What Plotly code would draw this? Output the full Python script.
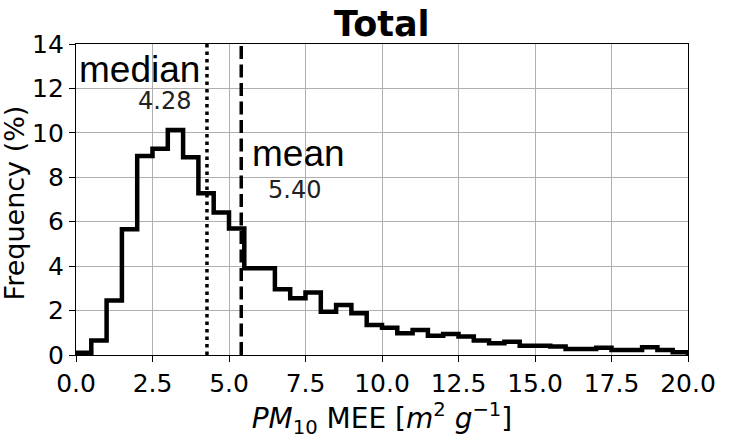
import numpy as np
import plotly.graph_objects as go

# Histogram of PM10 mass extinction efficiency, 0.5-wide bins from 0 to 20
bin_edges = np.arange(0.0, 20.0001, 0.5)
freq_pct = [
    0.10, 0.65, 2.45, 5.66, 8.96, 9.28, 10.13, 8.90, 7.28, 6.41,
    5.70, 3.90, 3.90, 2.96, 2.55, 2.81, 1.95, 2.25, 1.88, 1.35,
    1.23, 0.98, 1.13, 0.87, 0.95, 0.83, 0.65, 0.53, 0.60, 0.42,
    0.42, 0.38, 0.27, 0.27, 0.33, 0.23, 0.23, 0.35, 0.23, 0.12,
]
median_val = 4.28
mean_val = 5.40

x_ticks = [0.0, 2.5, 5.0, 7.5, 10.0, 12.5, 15.0, 17.5, 20.0]
y_ticks = [0, 2, 4, 6, 8, 10, 12, 14]

# step outline: start at baseline, climb through each bin, drop at the end
step_x = [bin_edges[0]] + list(bin_edges[:-1]) + [bin_edges[-1], bin_edges[-1]]
step_y = [0.0] + list(freq_pct) + [freq_pct[-1], 0.0]

fig = go.Figure()
fig.add_trace(go.Scatter(
    x=step_x, y=step_y, mode="lines", line_shape="hv",
    line=dict(color="black", width=4.5), showlegend=False, hoverinfo="skip",
))
fig.add_trace(go.Scatter(
    x=[median_val, median_val], y=[0, 14], mode="lines",
    line=dict(color="black", width=3.5, dash="3.5px,4px"), showlegend=False,
))
fig.add_trace(go.Scatter(
    x=[mean_val, mean_val], y=[0, 14], mode="lines",
    line=dict(color="black", width=3.5, dash="13px,5.5px"), showlegend=False,
))

big = dict(family="Liberation Sans, Arial", size=37, color="black")
small = dict(family="DejaVu Sans", size=24, color="#222222")
fig.add_annotation(x=median_val - 0.15, y=12.85, text="median", showarrow=False,
                   xanchor="right", yanchor="middle", font=big)
fig.add_annotation(x=median_val - 0.45, y=11.42, text=f"{median_val:.2f}", showarrow=False,
                   xanchor="right", yanchor="middle", font=small)
fig.add_annotation(x=mean_val + 0.3, y=9.05, text="mean", showarrow=False,
                   xanchor="left", yanchor="middle", font=big)
fig.add_annotation(x=mean_val + 1.75, y=7.45, text=f"{mean_val:.2f}", showarrow=False,
                   xanchor="center", yanchor="middle", font=small)

# y-axis title placed as a rotated annotation for exact positioning
fig.add_annotation(xref="paper", yref="paper", x=-0.1, y=0.49,
                   text="Frequency (%)", textangle=-90, showarrow=False,
                   xanchor="center", yanchor="middle",
                   font=dict(family="DejaVu Sans", size=27, color="black"))

axis_common = dict(
    showline=True, mirror=True, linecolor="black", linewidth=1.3,
    showgrid=True, gridcolor="#b0b0b0", gridwidth=1,
    ticks="outside", ticklen=6, tickwidth=1.3, tickcolor="black",
    tickfont=dict(family="DejaVu Sans", size=25, color="black"),
    zeroline=False,
)

fig.update_layout(
    width=730, height=439,
    margin=dict(l=76, r=42, t=44, b=84),
    paper_bgcolor="white", plot_bgcolor="white",
    title=dict(text="<b>Total</b>", x=0.523, xanchor="center",
               y=0.945, yanchor="middle", yref="container",
               font=dict(family="DejaVu Sans", size=35, color="black")),
    xaxis=dict(range=[0, 20], tickvals=x_ticks,
               ticktext=[f"{v:.1f}" for v in x_ticks],
               title=dict(text="<i>PM</i><sub>10</sub> MEE [<i>m</i><sup>2</sup> <i>g</i><sup>−1</sup>]",
                          font=dict(family="DejaVu Sans", size=28, color="black"),
                          standoff=4),
               **axis_common),
    yaxis=dict(range=[0, 14], tickvals=y_ticks, **axis_common),
)

fig.write_html("out.html")
